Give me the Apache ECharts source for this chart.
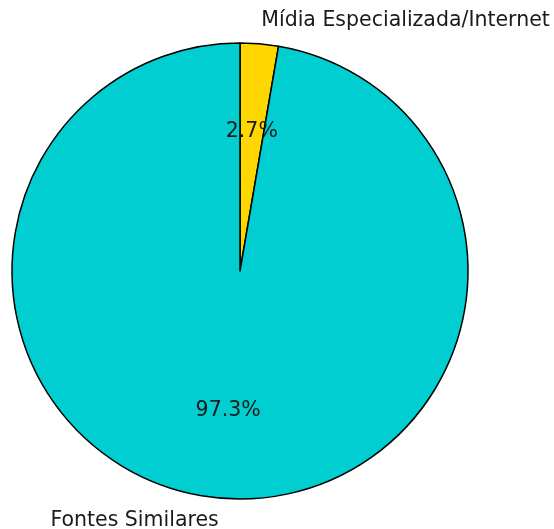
<!DOCTYPE html>
<html>
<head>
<meta charset="utf-8">
<script src="https://cdn.jsdelivr.net/npm/echarts@6/dist/echarts.min.js"></script>
<style>html,body{margin:0;padding:0;background:#fff}#c{width:554px;height:529px}</style>
</head>
<body>
<div id="c"></div>
<script>
const categories = ['Mídia Especializada/Internet', 'Fontes Similares'];
const values = [2.7, 97.3];
const colors = ['#FFD700', '#00CED1'];

const chart = echarts.init(document.getElementById('c'), null, {renderer: 'canvas'});
const cx = 240, cy = 271, R = 228;
const font = 'DejaVu Sans';
const fs = 20.5;
const mainData = categories.map((n, i) => ({name: n, value: values[i], itemStyle: {color: colors[i]}}));
const pctData = categories.map((n, i) => ({name: n, value: values[i]}));

chart.setOption({
  animation: false,
  series: [
    {
      type: 'pie',
      center: [cx, cy],
      radius: [0, R],
      startAngle: 90,
      clockwise: true,
      avoidLabelOverlap: false,
      data: mainData,
      itemStyle: {borderColor: '#000', borderWidth: 1.5},
      emphasis: {disabled: true},
      label: {
        show: true,
        position: 'outside',
        formatter: '{b}',
        fontFamily: font,
        fontSize: fs,
        color: '#1a1a1a',
        distanceToLabelLine: 0
      },
      labelLine: {show: false, length: 0.1 * R, length2: 0}
    },
    {
      type: 'pie',
      center: [cx, cy],
      radius: [0, 1.2 * R],
      startAngle: 90,
      clockwise: true,
      silent: true,
      z: 5,
      data: pctData,
      itemStyle: {color: 'rgba(0,0,0,0)', borderWidth: 0},
      emphasis: {disabled: true},
      label: {
        show: true,
        position: 'inside',
        formatter: p => p.value.toFixed(1) + '%',
        fontFamily: font,
        fontSize: fs,
        color: '#1a1a1a'
      },
      labelLine: {show: false}
    }
  ]
});
</script>
</body>
</html>
